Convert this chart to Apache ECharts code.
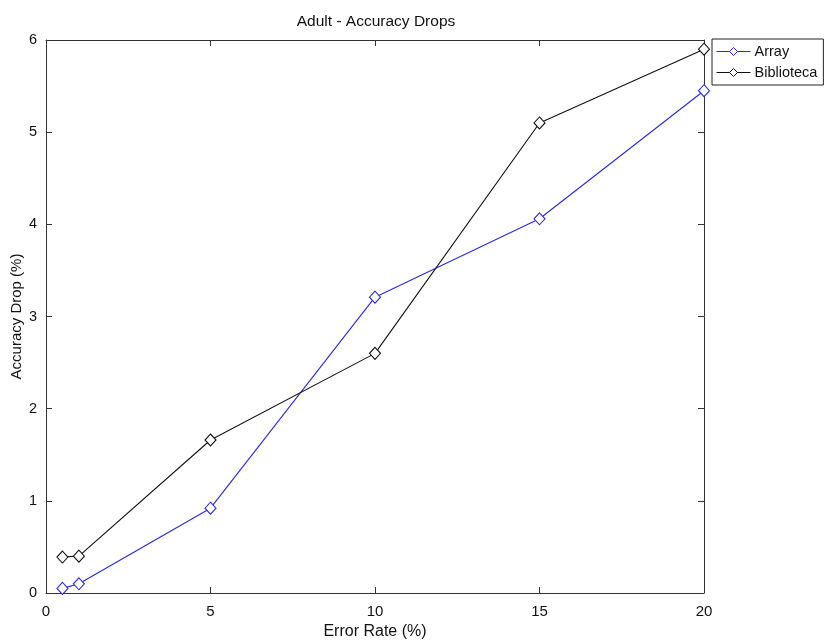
<!DOCTYPE html>
<html>
<head>
<meta charset="utf-8">
<script src="https://cdn.jsdelivr.net/npm/echarts@6/dist/echarts.min.js"></script>
<style>
  html, body { margin: 0; padding: 0; background: #fff; }
  #chart { width: 831px; height: 641px; }
</style>
</head>
<body>
<div id="chart"></div>
<script>
// Error rates (%) on the x axis
const errorRates = [0.5, 1, 5, 10, 15, 20];
// Accuracy drop (%) for each method
const arrayDrop = [0.05, 0.10, 0.92, 3.21, 4.06, 5.45];
const bibliotecaDrop = [0.39, 0.40, 1.66, 2.60, 5.10, 5.90];

const FONT = 'Liberation Sans, Arial, sans-serif';
const AXIS_COLOR = '#333';

function pairs(xs, ys) {
  return xs.map((x, i) => [x, ys[i]]);
}

const chart = echarts.init(document.getElementById('chart'), null, { renderer: 'canvas' });

// Boxed frame: every side carries a line and inward ticks
const frameAxis = {
  axisLine: { show: true, onZero: false, lineStyle: { color: AXIS_COLOR, width: 1 } },
  axisTick: { show: true, inside: true, length: 6, lineStyle: { color: AXIS_COLOR } },
  splitLine: { show: false }
};

chart.setOption({
  animation: false,
  backgroundColor: '#fff',
  title: {
    text: 'Adult - Accuracy Drops',
    left: 371,
    textAlign: 'center',
    top: 9,
    textStyle: { fontFamily: FONT, fontSize: 15.5, fontWeight: 'normal', color: '#111' }
  },
  legend: {
    orient: 'vertical',
    left: 712,
    top: 39,
    width: 112,
    borderColor: '#222',
    borderWidth: 1,
    borderRadius: 0,
    padding: [5, 6, 5, 4],
    itemGap: 6,
    itemWidth: 34,
    itemHeight: 10,
    lineStyle: { width: 1 },
    itemStyle: { borderWidth: 1 },
    textStyle: { fontFamily: FONT, fontSize: 14.5, color: '#111', padding: [0, 0, 0, -1] },
    data: ['Array', 'Biblioteca']
  },
  grid: { left: 46, top: 40, right: 127, bottom: 48, outerBoundsMode: 'none', containLabel: false },
  xAxis: [
    Object.assign({
      type: 'value', min: 0, max: 20, interval: 5, position: 'bottom',
      name: 'Error Rate (%)', nameLocation: 'middle', nameGap: 30,
      nameTextStyle: { fontFamily: FONT, fontSize: 16, color: '#111' },
      axisLabel: { fontFamily: FONT, fontSize: 15, color: '#111', margin: 11 }
    }, frameAxis),
    Object.assign({
      type: 'value', min: 0, max: 20, interval: 5, position: 'top',
      axisLabel: { show: false }
    }, frameAxis)
  ],
  yAxis: [
    Object.assign({
      type: 'value', min: 0, max: 6, interval: 1, position: 'left',
      name: 'Accuracy Drop (%)', nameLocation: 'middle', nameGap: 22,
      nameMoveOverlap: false,
      nameTextStyle: { fontFamily: FONT, fontSize: 15, color: '#111' },
      axisLabel: { fontFamily: FONT, fontSize: 14.5, color: '#111', margin: 9 }
    }, frameAxis),
    Object.assign({
      type: 'value', min: 0, max: 6, interval: 1, position: 'right',
      axisLabel: { show: false }
    }, frameAxis)
  ],
  series: [
    {
      name: 'Array',
      type: 'line',
      data: pairs(errorRates, arrayDrop),
      symbol: 'diamond',
      symbolSize: [11, 12],
      lineStyle: { color: '#2a2ad6', width: 1.1 },
      itemStyle: { color: '#fff', borderColor: '#2a2ad6', borderWidth: 1.1 },
      emphasis: { disabled: true }
    },
    {
      name: 'Biblioteca',
      type: 'line',
      data: pairs(errorRates, bibliotecaDrop),
      symbol: 'diamond',
      symbolSize: [11, 12],
      lineStyle: { color: '#111', width: 1.1 },
      itemStyle: { color: '#fff', borderColor: '#111', borderWidth: 1.1 },
      emphasis: { disabled: true }
    }
  ]
});
</script>
</body>
</html>
